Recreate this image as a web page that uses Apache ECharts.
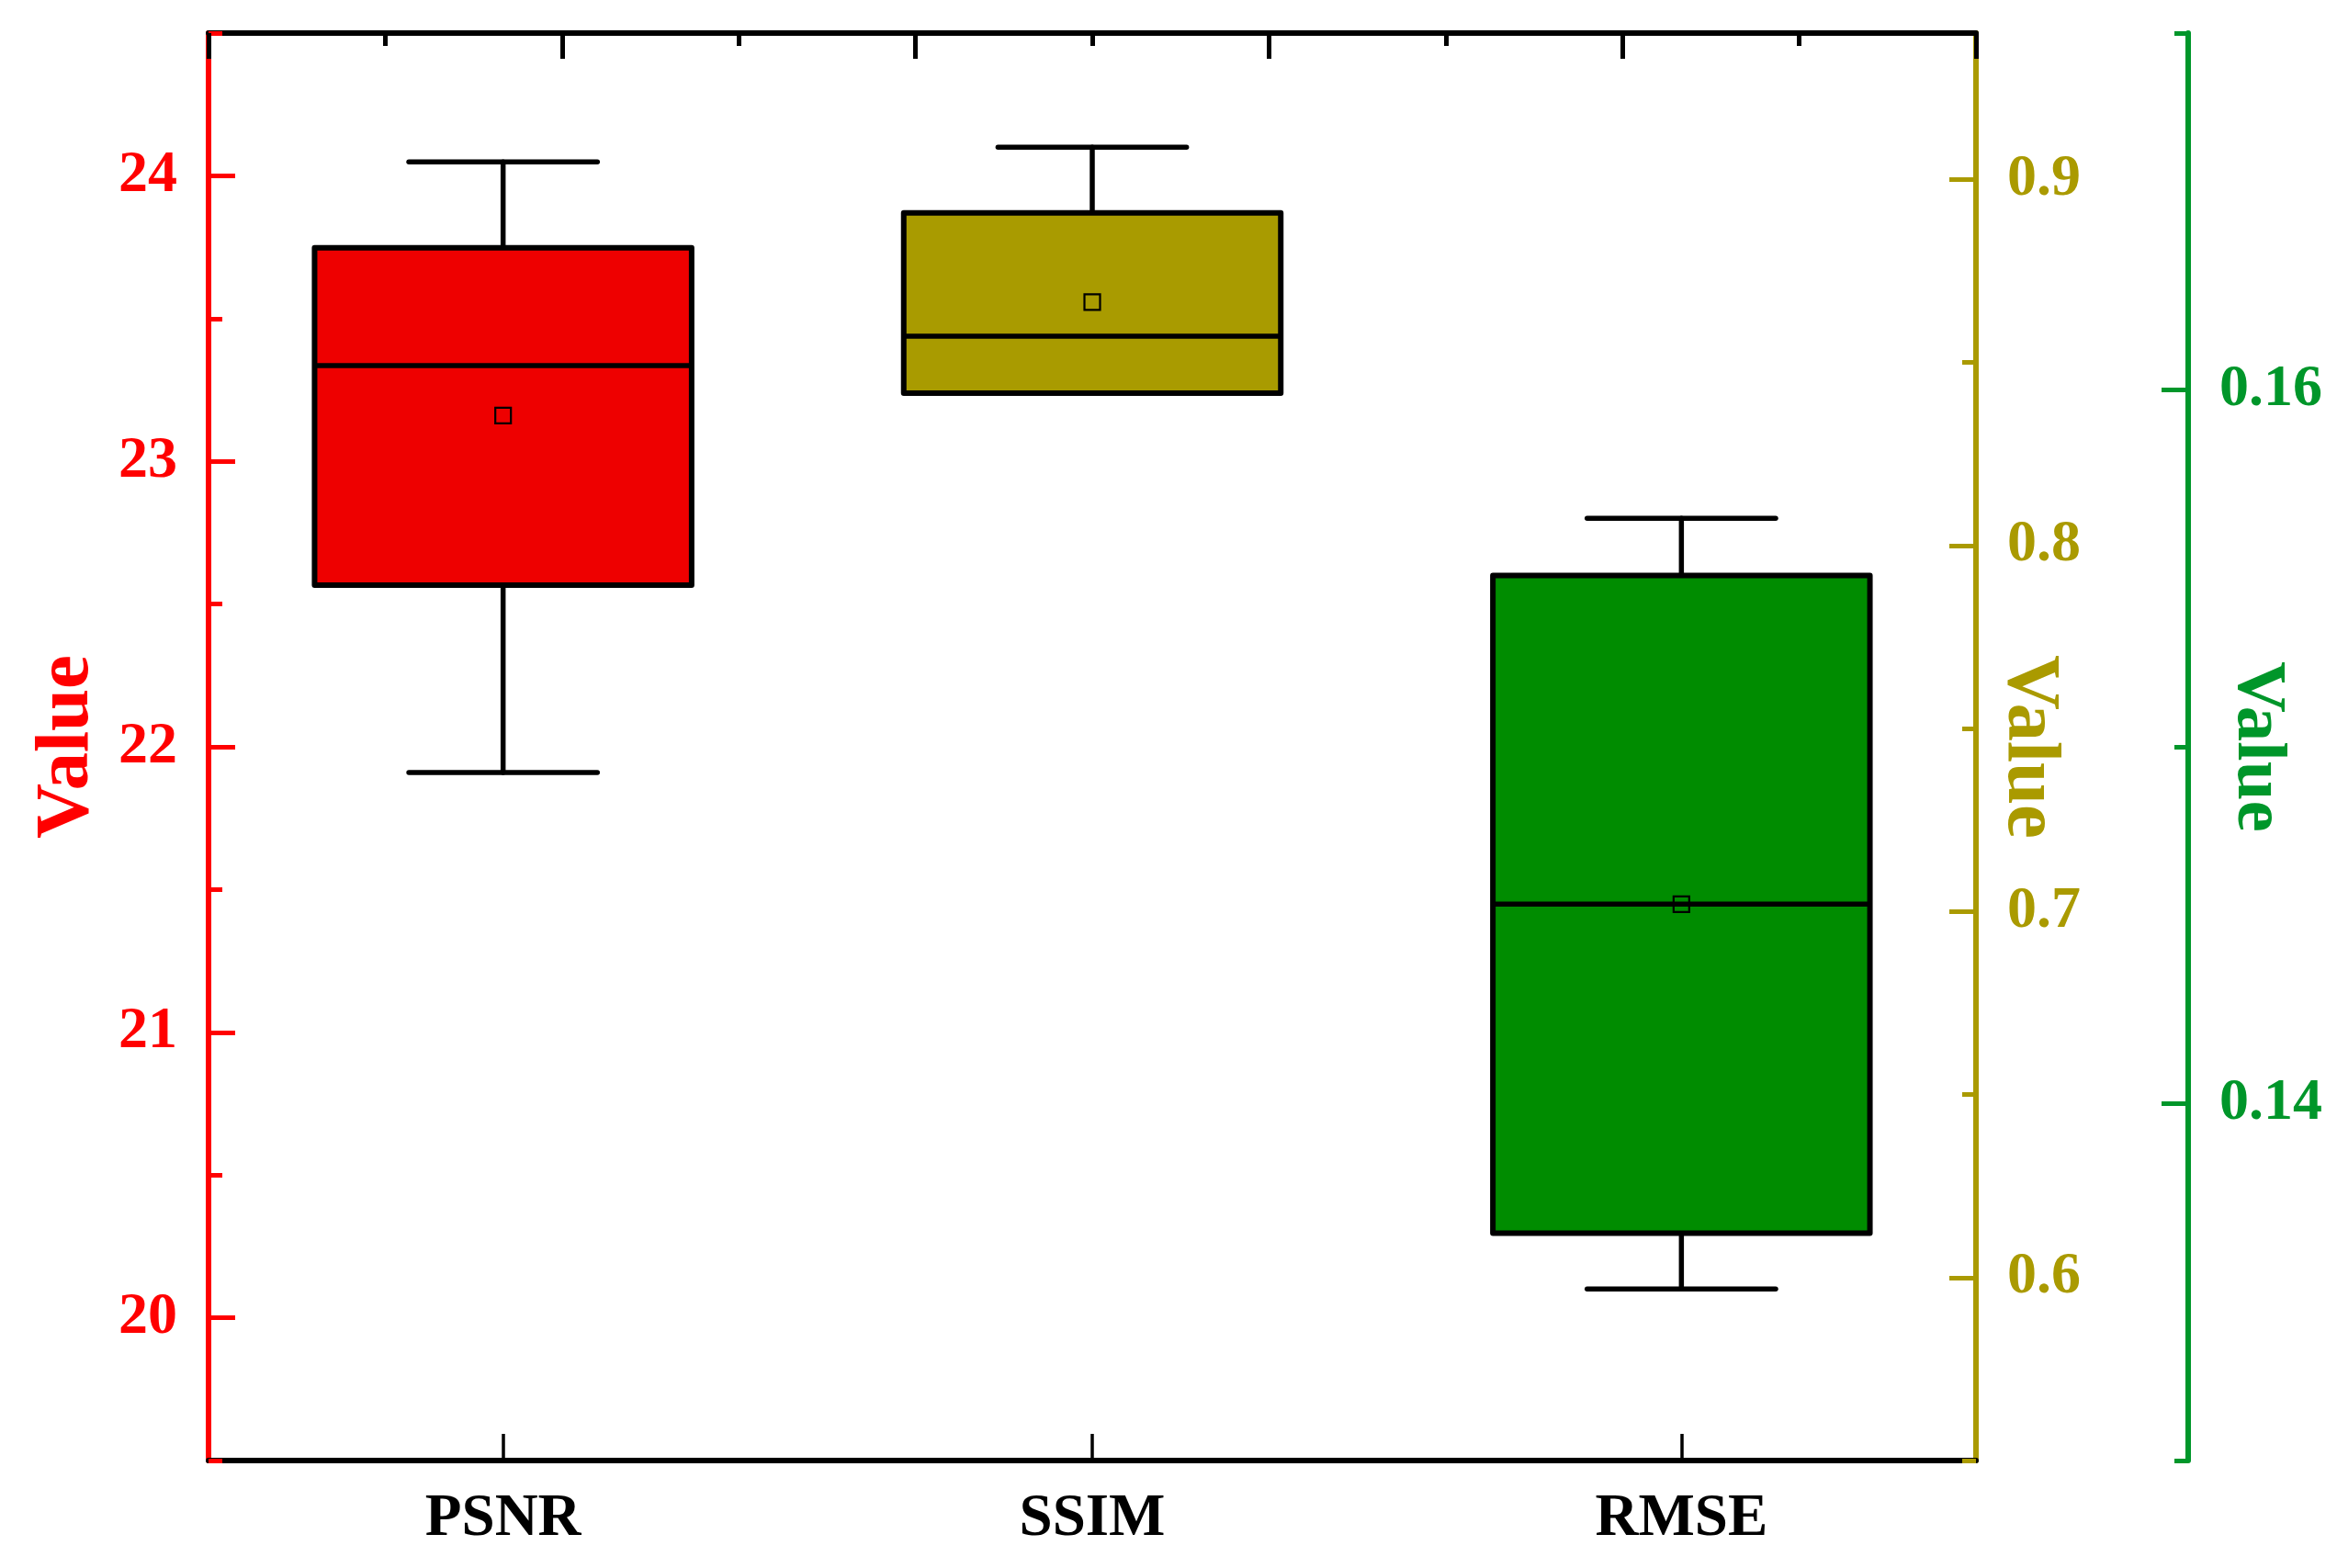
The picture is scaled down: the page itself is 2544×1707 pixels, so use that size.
<!DOCTYPE html>
<html>
<head>
<meta charset="utf-8">
<script src="https://cdn.jsdelivr.net/npm/echarts@6/dist/echarts.min.js"></script>
<style>
  html, body { margin: 0; padding: 0; background: #fff; }
  #chart { width: 2544px; height: 1707px; }
</style>
</head>
<body>
<div id="chart"></div>
<script>
// categories and box statistics: [min, q1, median, q3, max, mean]
const categories = ['PSNR', 'SSIM', 'RMSE']
const psnrStats = [21.91, 22.566, 23.335, 23.748, 24.049, 23.16]
const ssimStats = [0.8416, 0.8416, 0.8572, 0.8909, 0.9088, 0.8665]
const rmseStats = [0.13481, 0.13637, 0.14559, 0.1548, 0.1564, 0.14559]

// axis ticks
const psnrTicks = [20, 21, 22, 23, 24]
const psnrMinor = [19.5, 20.5, 21.5, 22.5, 23.5, 24.5]
const ssimTicks = [0.6, 0.7, 0.8, 0.9]
const ssimMinor = [0.55, 0.65, 0.75, 0.85]
const rmseTicks = [0.14, 0.16]
const rmseMinor = [0.13, 0.15, 0.17]

const colors = {
  red: '#FF0000', redFill: '#EE0000',
  olive: '#AA9A00', oliveFill: '#A99B00',
  green: '#00962A', greenFill: '#008C00'
}
const font = 'Liberation Serif'

function boxRender(fill) {
  return function (params, api) {
    const x = api.value(0)
    const band = api.size([1, 0])[0]
    const bw = band * 0.64
    const cw = band * 0.32
    const pMin = api.coord([x, api.value(1)])
    const pQ1 = api.coord([x, api.value(2)])
    const pMed = api.coord([x, api.value(3)])
    const pQ3 = api.coord([x, api.value(4)])
    const pMax = api.coord([x, api.value(5)])
    const pMean = api.coord([x, api.value(6)])
    const cx = pMed[0]
    const line = { stroke: '#000', lineWidth: 5.5, lineCap: 'round' }
    const sq = 17
    return {
      type: 'group',
      children: [
        { type: 'line', shape: { x1: cx, y1: pMax[1], x2: cx, y2: pQ3[1] }, style: line },
        { type: 'line', shape: { x1: cx, y1: pMin[1], x2: cx, y2: pQ1[1] }, style: line },
        { type: 'line', shape: { x1: cx - cw / 2, y1: pMax[1], x2: cx + cw / 2, y2: pMax[1] }, style: line },
        { type: 'line', shape: { x1: cx - cw / 2, y1: pMin[1], x2: cx + cw / 2, y2: pMin[1] }, style: line },
        {
          type: 'rect',
          shape: { x: cx - bw / 2, y: pQ3[1], width: bw, height: pQ1[1] - pQ3[1] },
          style: { fill: fill, stroke: '#000', lineWidth: 6, lineJoin: 'round' }
        },
        { type: 'line', shape: { x1: cx - bw / 2, y1: pMed[1], x2: cx + bw / 2, y2: pMed[1] }, style: { stroke: '#000', lineWidth: 5.5 } },
        {
          type: 'rect',
          shape: { x: cx - sq / 2, y: pMean[1] - sq / 2, width: sq, height: sq },
          style: { fill: 'none', stroke: '#000', lineWidth: 2.2 }
        }
      ]
    }
  }
}

function yAxisMajor(opts) {
  return {
    type: 'value',
    position: opts.position,
    offset: opts.offset || 0,
    min: opts.min,
    max: opts.max,
    name: 'Value',
    nameLocation: 'middle',
    nameGap: opts.nameGap,
    nameRotate: opts.nameRotate,
    nameMoveOverlap: false,
    nameTextStyle: { color: opts.color, fontFamily: font, fontWeight: 'bold', fontSize: opts.nameSize },
    axisLine: { show: true, lineStyle: { color: opts.color, width: 6 } },
    axisTick: { show: true, inside: true, length: 29, customValues: opts.ticks, lineStyle: { color: opts.color, width: 5 } },
    axisLabel: {
      show: true, customValues: opts.ticks, margin: opts.margin,
      color: opts.color, fontFamily: font, fontWeight: 'bold', fontSize: 64,
      formatter: v => v.toFixed(opts.digits)
    },
    splitLine: { show: false }
  }
}

function yAxisMinor(opts) {
  return {
    type: 'value',
    position: opts.position,
    offset: opts.offset || 0,
    min: opts.min,
    max: opts.max,
    axisLine: { show: false },
    axisTick: { show: true, inside: true, length: 15, customValues: opts.ticks, lineStyle: { color: opts.color, width: 5 } },
    axisLabel: { show: false },
    splitLine: { show: false }
  }
}

const chart = echarts.init(document.getElementById('chart'))
chart.setOption({
  animation: false,
  backgroundColor: '#fff',
  grid: { left: 227, right: 393, top: 36, bottom: 117, outerBoundsMode: 'none', containLabel: false },
  xAxis: [
    {
      type: 'category',
      data: categories,
      position: 'bottom',
      axisLine: { lineStyle: { color: '#000', width: 6 } },
      axisTick: { show: true, inside: true, alignWithLabel: true, length: 29, lineStyle: { color: '#000', width: 3.5 } },
      axisLabel: { color: '#000', fontFamily: font, fontWeight: 'bold', fontSize: 65, margin: 32 },
      splitLine: { show: false }
    },
    {
      type: 'value',
      position: 'top',
      min: 0,
      max: 10,
      interval: 2,
      axisLine: { show: true, lineStyle: { color: '#000', width: 6 } },
      axisTick: { show: true, inside: true, length: 28, lineStyle: { color: '#000', width: 5 } },
      minorTick: { show: true, splitNumber: 2, length: 14, lineStyle: { color: '#000', width: 5 } },
      axisLabel: { show: false },
      splitLine: { show: false }
    }
  ],
  yAxis: [
    yAxisMajor({ position: 'left', min: 19.5, max: 24.5, ticks: psnrTicks, color: colors.red, digits: 0, margin: 34, nameGap: 112, nameRotate: 90, nameSize: 83 }),
    yAxisMinor({ position: 'left', min: 19.5, max: 24.5, ticks: psnrMinor, color: colors.red }),
    yAxisMajor({ position: 'right', min: 0.55, max: 0.94, ticks: ssimTicks, color: colors.olive, digits: 1, margin: 34, nameGap: 16, nameRotate: -90, nameSize: 83 }),
    yAxisMinor({ position: 'right', min: 0.55, max: 0.94, ticks: ssimMinor, color: colors.olive }),
    yAxisMajor({ position: 'right', offset: 231, min: 0.13, max: 0.17, ticks: rmseTicks, color: colors.green, digits: 2, margin: 34, nameGap: 36, nameRotate: -90, nameSize: 77 }),
    yAxisMinor({ position: 'right', offset: 231, min: 0.13, max: 0.17, ticks: rmseMinor, color: colors.green })
  ],
  series: [
    {
      type: 'custom', name: 'PSNR', xAxisIndex: 0, yAxisIndex: 0,
      renderItem: boxRender(colors.redFill),
      encode: { x: 0, y: [1, 2, 3, 4, 5, 6] },
      data: [[0].concat(psnrStats)]
    },
    {
      type: 'custom', name: 'SSIM', xAxisIndex: 0, yAxisIndex: 2,
      renderItem: boxRender(colors.oliveFill),
      encode: { x: 0, y: [1, 2, 3, 4, 5, 6] },
      data: [[1].concat(ssimStats)]
    },
    {
      type: 'custom', name: 'RMSE', xAxisIndex: 0, yAxisIndex: 4,
      renderItem: boxRender(colors.greenFill),
      encode: { x: 0, y: [1, 2, 3, 4, 5, 6] },
      data: [[2].concat(rmseStats)]
    }
  ]
})
</script>
</body>
</html>
